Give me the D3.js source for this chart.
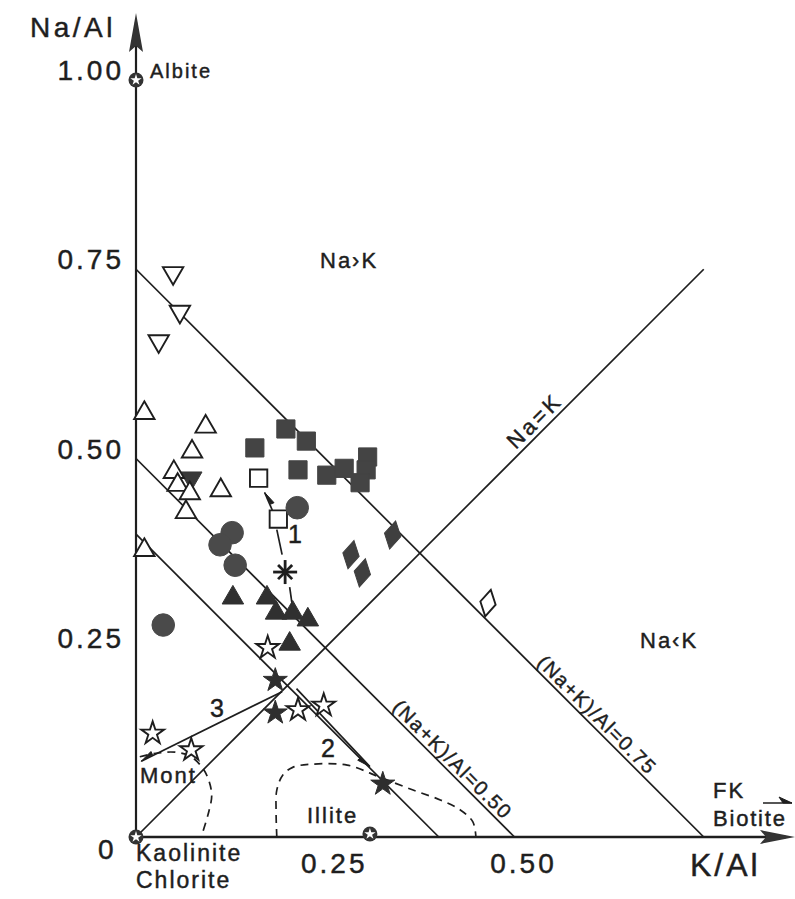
<!DOCTYPE html>
<html>
<head>
<meta charset="utf-8">
<script src="https://cdn.jsdelivr.net/npm/d3@7"></script>
<style>
  html, body { margin: 0; padding: 0; background: #fff; }
  svg text { font-family: "Liberation Sans", Arial, Helvetica, sans-serif; fill: #1e1e1e; stroke: #1e1e1e; stroke-width: 0.45px; }
</style>
</head>
<body>
<svg id="chart" width="795" height="899"></svg>
<script>
// ---------------- DATA (K/Al, Na/Al) ----------------
const yTicks = [1.00, 0.75, 0.50, 0.25];
const xTicks = [0.25, 0.50];
const isoValues = [0.75, 0.50, 0.40];           // (Na+K)/Al lines
const isoLabels = [
  { value: 0.75, text: "(Na+K)/Al=0.75", at: 0.599 },
  { value: 0.50, text: "(Na+K)/Al=0.50", at: 0.408 }
];
const equalLine = [[0, 0], [0.75, 0.75]];        // Na=K

const openDownTri   = [[0.049, 0.745], [0.058, 0.694], [0.030, 0.655]];
const filledDownTri = [[0.073, 0.474]];
const openUpTri     = [[0.011, 0.560], [0.092, 0.542], [0.074, 0.509], [0.050, 0.482], [0.055, 0.465],
                       [0.071, 0.454], [0.112, 0.458], [0.066, 0.429], [0.011, 0.379]];
const filledSquares = [[0.157, 0.514], [0.198, 0.539], [0.225, 0.523], [0.214, 0.485], [0.252, 0.478],
                       [0.275, 0.487], [0.306, 0.502], [0.304, 0.485], [0.296, 0.468]];
const openSquares   = [[0.162, 0.474], [0.188, 0.420]];
const asterisks     = [[0.197, 0.350]];
const filledCircles = [[0.213, 0.435], [0.127, 0.402], [0.111, 0.386], [0.131, 0.359], [0.036, 0.280]];
const filledDiamonds= [[0.339, 0.399], [0.284, 0.373], [0.299, 0.349]];
const openDiamonds  = [[0.465, 0.309]];
const filledUpTri   = [[0.128, 0.316], [0.173, 0.316], [0.185, 0.296], [0.207, 0.296], [0.227, 0.287], [0.203, 0.255]];
const openStars     = [[0.174, 0.250], [0.214, 0.168], [0.248, 0.174], [0.022, 0.137], [0.073, 0.115]];
const filledStars   = [[0.184, 0.207], [0.184, 0.164], [0.326, 0.070]];
const minerals      = [[0, 1.0], [0, 0], [0.309, 0.004]]; // Albite, Kaolinite/Chlorite, Illite

const montCurve   = [[0.005, 0.106], [0.029, 0.111], [0.052, 0.112], [0.071, 0.107], [0.085, 0.095],
                     [0.095, 0.078], [0.100, 0.055], [0.095, 0.029], [0.086, 0.000]];
const illiteCurve = [[0.186, 0.000], [0.185, 0.036], [0.186, 0.062], [0.194, 0.082], [0.207, 0.092],
                     [0.230, 0.096], [0.279, 0.095], [0.322, 0.079], [0.366, 0.062], [0.402, 0.049],
                     [0.428, 0.036], [0.445, 0.020], [0.449, 0.000]];

const trend1 = [[[0.207, 0.302], [0.203, 0.330]], [[0.193, 0.373], [0.186, 0.406]]];
const trend1Arrow = [[0.180, 0.432], [0.170, 0.455]];
const trend2Arrow = [[0.212, 0.196], [0.309, 0.093]];
const trend3Arrow = [[0.193, 0.192], [0.007, 0.100]];

// ---------------- SCALES ----------------
const svg = d3.select("#chart");
const x = d3.scaleLinear().domain([0, 1]).range([136, 893]);
const y = d3.scaleLinear().domain([0, 1]).range([837, 80]);
const ink = "#1e1e1e";

// ---------------- AXES ----------------
svg.append("line").attr("x1", x(0)).attr("x2", x(0)).attr("y1", y(0)).attr("y2", 22)
  .attr("stroke", ink).attr("stroke-width", 2.2);
svg.append("path").attr("d", `M${x(0)},13 L${x(0)-7},52 L${x(0)},46 L${x(0)+7},52 Z`).attr("fill", "#333");
svg.append("line").attr("x1", x(0)).attr("x2", 786).attr("y1", y(0)).attr("y2", y(0))
  .attr("stroke", ink).attr("stroke-width", 2.4);
svg.append("path").attr("d", `M795,${y(0)} L760,${y(0)-7} L766,${y(0)} L760,${y(0)+7} Z`).attr("fill", "#333");

const fmt = d3.format(".2f");
svg.selectAll(".ytick").data(yTicks).join("text")
  .attr("x", 124).attr("y", d => y(d)).attr("text-anchor", "end")
  .attr("font-size", 28).attr("letter-spacing", 3).text(fmt);
svg.selectAll(".xtick").data(xTicks).join("text")
  .attr("x", d => x(d) + 9).attr("y", 873).attr("text-anchor", "middle")
  .attr("font-size", 28).attr("letter-spacing", 3).text(fmt);
svg.append("text").attr("x", 98).attr("y", 859).attr("font-size", 28).text("0");

svg.append("text").attr("x", 30).attr("y", 37).attr("font-size", 28).attr("letter-spacing", 3.5).text("Na/Al");
svg.append("text").attr("x", 690).attr("y", 876).attr("font-size", 32).attr("letter-spacing", 3).text("K/Al");

// ---------------- REFERENCE LINES ----------------
const lineGen = d3.line().x(d => x(d[0])).y(d => y(d[1]));
svg.selectAll(".iso").data(isoValues).join("path")
  .attr("d", v => lineGen([[0, v], [v, 0]]))
  .attr("fill", "none").attr("stroke", ink).attr("stroke-width", 1.7);
svg.append("path").attr("d", lineGen(equalLine)).attr("fill", "none").attr("stroke", ink).attr("stroke-width", 1.7);

isoLabels.forEach(l => {
  const px = x(l.at), py = y(l.value - l.at);
  svg.append("text").attr("transform", `translate(${px},${py}) rotate(45)`)
    .attr("y", -4).attr("text-anchor", "middle").attr("font-size", 20).attr("letter-spacing", 1.5).text(l.text);
});
svg.append("text").attr("transform", `translate(${x(0.538)},${y(0.538)}) rotate(-45)`)
  .attr("y", -5).attr("text-anchor", "middle").attr("font-size", 22).attr("letter-spacing", 3).text("Na=K");

// dashed fields
const curveGen = d3.line().x(d => x(d[0])).y(d => y(d[1])).curve(d3.curveCatmullRom);
[montCurve, illiteCurve].forEach(c => {
  svg.append("path").attr("d", curveGen(c)).attr("fill", "none").attr("stroke", ink)
    .attr("stroke-width", 1.7).attr("stroke-dasharray", "8,6");
});

// trend arrows
function arrow(seg) {
  const [a, b] = seg;
  const x0 = x(a[0]), y0 = y(a[1]), x1 = x(b[0]), y1 = y(b[1]);
  svg.append("line").attr("x1", x0).attr("y1", y0).attr("x2", x1).attr("y2", y1)
    .attr("stroke", ink).attr("stroke-width", 1.7);
  const ang = Math.atan2(y1 - y0, x1 - x0), L = 13, Wd = 4.5;
  const bx = x1 - L * Math.cos(ang), by = y1 - L * Math.sin(ang);
  const nx = -Math.sin(ang), ny = Math.cos(ang);
  svg.append("path").attr("d", `M${x1},${y1} L${bx + nx * Wd},${by + ny * Wd} L${bx + nx * 1},${by + ny * 1} Z`)
    .attr("fill", ink).attr("stroke", ink).attr("stroke-width", 1);
}
trend1.forEach(s => svg.append("path").attr("d", lineGen(s)).attr("stroke", ink).attr("stroke-width", 1.7).attr("fill", "none"));
arrow(trend1Arrow);
arrow(trend2Arrow);
arrow(trend3Arrow);

svg.append("text").attr("x", 288).attr("y", 543).attr("font-size", 25).text("1");
svg.append("text").attr("x", 321).attr("y", 757).attr("font-size", 25).text("2");
svg.append("text").attr("x", 210).attr("y", 717).attr("font-size", 25).text("3");

// ---------------- MARKERS ----------------
function plot(data, type, size, filled, fillColor, rotate) {
  const sym = d3.symbol().type(type).size(size);
  svg.append("g").selectAll("path").data(data).join("path")
    .attr("d", sym)
    .attr("transform", d => `translate(${x(d[0])},${y(d[1])})` + (rotate ? ` rotate(${rotate})` : ""))
    .attr("fill", filled ? fillColor : "#fff")
    .attr("stroke", filled ? fillColor : ink)
    .attr("stroke-width", filled ? 1 : 1.9)
    .attr("stroke-linejoin", "miter");
}
plot(openDownTri, d3.symbolTriangle, 180, false, null, 180);
plot(filledDownTri, d3.symbolTriangle, 200, true, "#383838", 180);
plot(openUpTri, d3.symbolTriangle, 180, false);
plot(filledSquares, d3.symbolSquare, 330, true, "#444");
plot(openSquares, d3.symbolSquare, 300, false);
plot(filledCircles, d3.symbolCircle, 400, true, "#4a4a4a");
plot(filledDiamonds, d3.symbolDiamond, 240, true, "#3f3f3f", 12);
plot(openDiamonds, d3.symbolDiamond, 210, false, null, 12);
plot(filledUpTri, d3.symbolTriangle, 200, true, "#303030");
plot(openStars, d3.symbolStar, 160, false);
plot(filledStars, d3.symbolStar, 180, true, "#2e2e2e");

// asterisk
asterisks.forEach(d => {
  const g = svg.append("g").attr("transform", `translate(${x(d[0])},${y(d[1])})`);
  [0, 45, 90, 135].forEach(a => {
    const r = a % 90 === 0 ? 12 : 10;
    g.append("line").attr("x1", -r).attr("x2", r).attr("y1", 0).attr("y2", 0)
      .attr("transform", `rotate(${a})`).attr("stroke", ink).attr("stroke-width", 2.8);
  });
});

// reference minerals
minerals.forEach(d => {
  const g = svg.append("g").attr("transform", `translate(${x(d[0])},${y(d[1])})`);
  g.append("circle").attr("r", 7.5).attr("fill", "#333");
  g.append("path").attr("d", d3.symbol().type(d3.symbolStar).size(40)()).attr("fill", "#fff");
});

// ---------------- TEXT LABELS ----------------
const labels = [
  { t: "Albite", x: 150, y: 78, s: 20, ls: 2 },
  { t: "Na›K", x: 320, y: 268, s: 22, ls: 2 },
  { t: "Na‹K", x: 640, y: 648, s: 22, ls: 2 },
  { t: "Illite", x: 307, y: 823, s: 22, ls: 2 },
  { t: "Mont", x: 140, y: 783, s: 22, ls: 2 },
  { t: "Kaolinite", x: 136, y: 861, s: 23, ls: 2 },
  { t: "Chlorite", x: 136, y: 888, s: 23, ls: 2 },
  { t: "FK", x: 713, y: 798, s: 22, ls: 2 },
  { t: "Biotite", x: 713, y: 826, s: 22, ls: 1.8 }
];
svg.selectAll(".lbl").data(labels).join("text")
  .attr("x", d => d.x).attr("y", d => d.y).attr("font-size", d => d.s).attr("letter-spacing", d => d.ls)
  .text(d => d.t);

// small FK arrow
svg.append("line").attr("x1", 763).attr("x2", 792).attr("y1", 803).attr("y2", 803).attr("stroke", ink).attr("stroke-width", 1.5);
svg.append("path").attr("d", "M792,803 L779,797 L783,803 Z").attr("fill", ink).attr("stroke", ink);
</script>
</body>
</html>
